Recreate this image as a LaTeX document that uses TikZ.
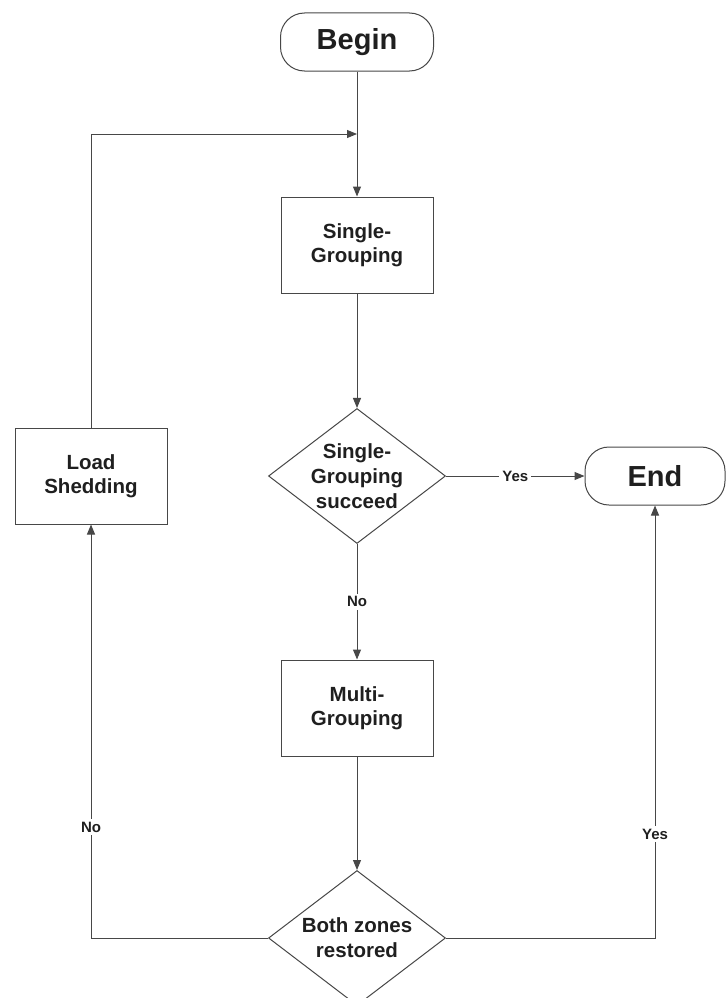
\documentclass[tikz,border=0pt]{standalone}
\usepackage{fontspec}
\setmainfont{Liberation Sans}
\usetikzlibrary{shapes.geometric,arrows.meta}
\begin{document}
\begin{tikzpicture}[x=1pt,y=-1pt,
  every node/.style={text=black!88},
  line/.style={draw=black!72, line width=1pt},
  flow/.style={line, -{Triangle[length=10pt,width=8pt]}},
  term/.style={line, rectangle, rounded corners=24pt, minimum width=153pt,
    minimum height=58pt, font=\bfseries\fontsize{29}{33}\selectfont},
  proc/.style={line, rectangle, minimum width=152pt, minimum height=96pt,
    align=center, font=\bfseries\fontsize{20.5}{24}\selectfont},
  dec/.style={line, diamond, minimum width=177pt, minimum height=135pt, inner sep=0pt},
  dectext/.style={align=center, font=\bfseries\fontsize{20.5}{25}\selectfont},
  lbl/.style={fill=white, inner sep=3pt, font=\bfseries\fontsize{15}{18}\selectfont},
]
\fill[white] (0,0) rectangle (727,998);
\useasboundingbox (0,0) rectangle (727,998);

% nodes of the flow chart
\node[term] (begin) at (357,42) {Begin};
\coordinate (join) at (357,134);
\node[proc] (sg) at (357,245) {Single-\\Grouping};
\node[dec, label={[dectext]center:Single-\\Grouping\\succeed}] (d1) at (357,476) {};
\node[term, minimum width=140pt] (end) at (655,476) {End};
\node[proc] (ls) at (91,476) {Load\\Shedding};
\node[proc] (mg) at (357,708) {Multi-\\Grouping};
\node[dec, label={[dectext]center:Both zones\\restored}] (d2) at (357,938) {};

% connectors
\draw[line] (begin) -- (join);
\draw[flow] (join) -- (sg);
\draw[flow] (ls.north) |- (join);
\draw[flow] (sg) -- (d1);
\draw[flow] (d1) -- node[lbl] {Yes} (end);
\draw[flow] (d1) -- node[lbl] {No} (mg);
\draw[flow] (mg) -- (d2);
\draw[flow] (d2.west) -| node[lbl, pos=0.634] {No} (ls.south);
\draw[flow] (d2.east) -| node[lbl, pos=0.62] {Yes} (end.south);
\end{tikzpicture}
\end{document}
